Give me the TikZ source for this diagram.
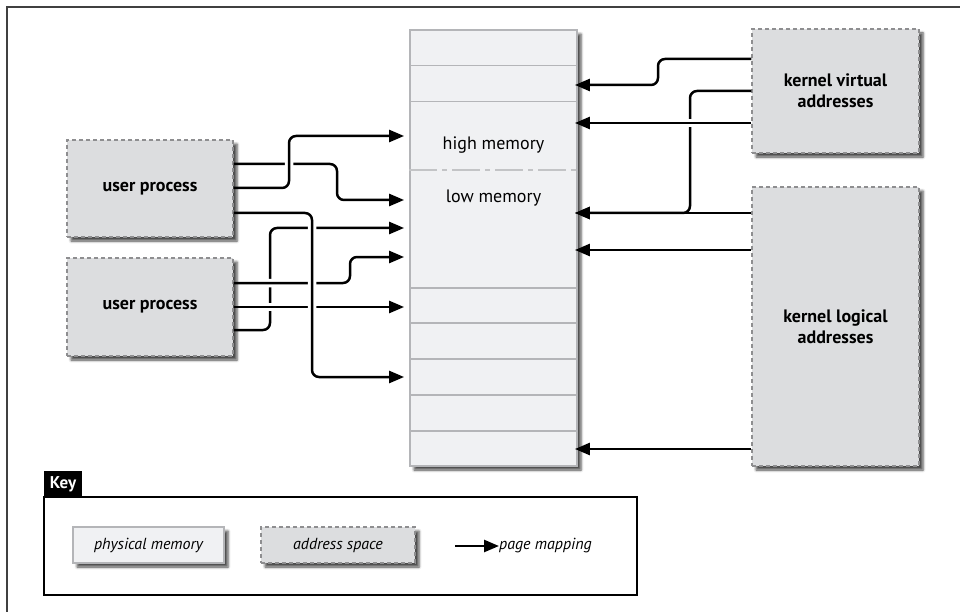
\documentclass[tikz,border=0pt]{standalone}
\usepackage{fontspec}
\setmainfont{PT Sans}
\usetikzlibrary{arrows.meta,shadows.blur}

\definecolor{spacefill}{HTML}{DCDDDF}
\definecolor{memfill}{HTML}{F0F1F3}
\definecolor{memline}{HTML}{B4B5B8}
\definecolor{dashline}{HTML}{8E8E90}

\begin{document}
\begin{tikzpicture}[x=1pt, y=-1pt,
    shade/.style={blur shadow={shadow xshift=4pt, shadow yshift=-4pt, shadow blur radius=2.5pt, shadow opacity=70}},
    space/.style={shade, draw=dashline, fill=spacefill, line width=1.3pt, dash pattern=on 4pt off 3pt,
        inner sep=0pt, align=center, font=\bfseries\fontsize{18}{21}\selectfont},
    physmem/.style={shade, draw=memline, fill=memfill, line width=1.8pt, inner sep=0pt},
    rowline/.style={draw=memline, line width=1.5pt},
    map/.style={line width=2.5pt, rounded corners=7pt, -{Triangle[length=15pt,width=12pt]}},
    mapL/.style={map, shorten >=5pt},
    mapR/.style={map, shorten >=-3pt},
    bridge/.style={preaction={draw=white, line width=8.5pt, -, shorten <=10pt, shorten >=20pt}},
    keyitem/.style={font=\itshape\fontsize{16}{18}\selectfont}]
    \useasboundingbox (0,0) rectangle (960,612);

    % frame
    \draw[black!75, line width=1.5pt] (7,612) -- (7,7) -- (960,7);

    % physical memory column
    \node[physmem, minimum width=167pt, minimum height=436pt] (mem) at (493.5,248) {};
    \foreach \y in {65.7,101.7,288,323,359,395,431}
        \draw[rowline] (mem.west |- 0,\y) -- (mem.east |- 0,\y);
    \draw[draw=memline!80, line width=1.5pt, dash pattern=on 28pt off 5pt on 5pt off 5pt]
        (mem.west |- 0,170) -- (mem.east |- 0,170);
    \node[font=\fontsize{18}{21}\selectfont] (high) at (493.5,145) {high memory};
    \node[font=\fontsize{18}{21}\selectfont] (low) at (493.5,198) {low memory};

    % address spaces
    \node[space, minimum width=166pt, minimum height=97pt] (user1) at (150,188.5) {user process};
    \node[space, minimum width=166pt, minimum height=98pt] (user2) at (150,307) {user process};
    \node[space, minimum width=167pt, minimum height=124pt] (kvirt) at (835.5,91) {kernel virtual\\addresses};
    \node[space, minimum width=167pt, minimum height=279pt] (klog) at (835.5,326.5) {kernel logical\\addresses};

    % user mappings
    \draw[mapL] (user2.east |- 0,330) -| (270,228) -- (mem.west |- 0,228);
    \draw[mapL, bridge] (user2.east |- 0,283) -| (350,257) -- (mem.west |- 0,257);
    \draw[mapL, bridge] (user2.east |- 0,307) -- (mem.west |- 0,307);
    \draw[mapL, bridge] (user1.east |- 0,213) -| (312,377) -- (mem.west |- 0,377);
    \draw[mapL] (user1.east |- 0,164) -| (337,200) -- (mem.west |- 0,200);
    \draw[mapL, bridge] (user1.east |- 0,188) -| (289,136) -- (mem.west |- 0,136);

    % kernel mappings
    \draw[mapR] (kvirt.west |- 0,59) -| (658,85) -- (mem.east |- 0,85);
    \draw[mapR] (kvirt.west |- 0,91) -| (690,213) -- (mem.east |- 0,213);
    \draw[mapR, bridge] (kvirt.west |- 0,123) -- (mem.east |- 0,123);
    \draw[mapR] (klog.west |- 0,213) -- (mem.east |- 0,213);
    \draw[mapR] (klog.west |- 0,250) -- (mem.east |- 0,250);
    \draw[mapR] (klog.west |- 0,449) -- (mem.east |- 0,449);

    % key
    \node[draw=black, line width=1.5pt, minimum width=593pt, minimum height=98pt] (keybox) at (340.5,546) {};
    \node[fill=black, text=white, inner sep=0pt, minimum width=38pt, minimum height=26pt,
        font=\bfseries\fontsize{17}{17}\selectfont] (keylabel) at (63,484) {Key};
    \node[physmem, keyitem, minimum width=151pt, minimum height=36pt] (keyphys) at (148.5,545) {physical memory};
    \node[space, keyitem, minimum width=154pt, minimum height=36pt] (keyaddr) at (338,545) {address space};
    \node[keyitem, anchor=west, inner sep=0pt] (keymap) at (499,546) {page mapping};
    \coordinate (keyfrom) at (455,546);
    \draw[map] (keyfrom) -- (keymap.west);
\end{tikzpicture}
\end{document}
